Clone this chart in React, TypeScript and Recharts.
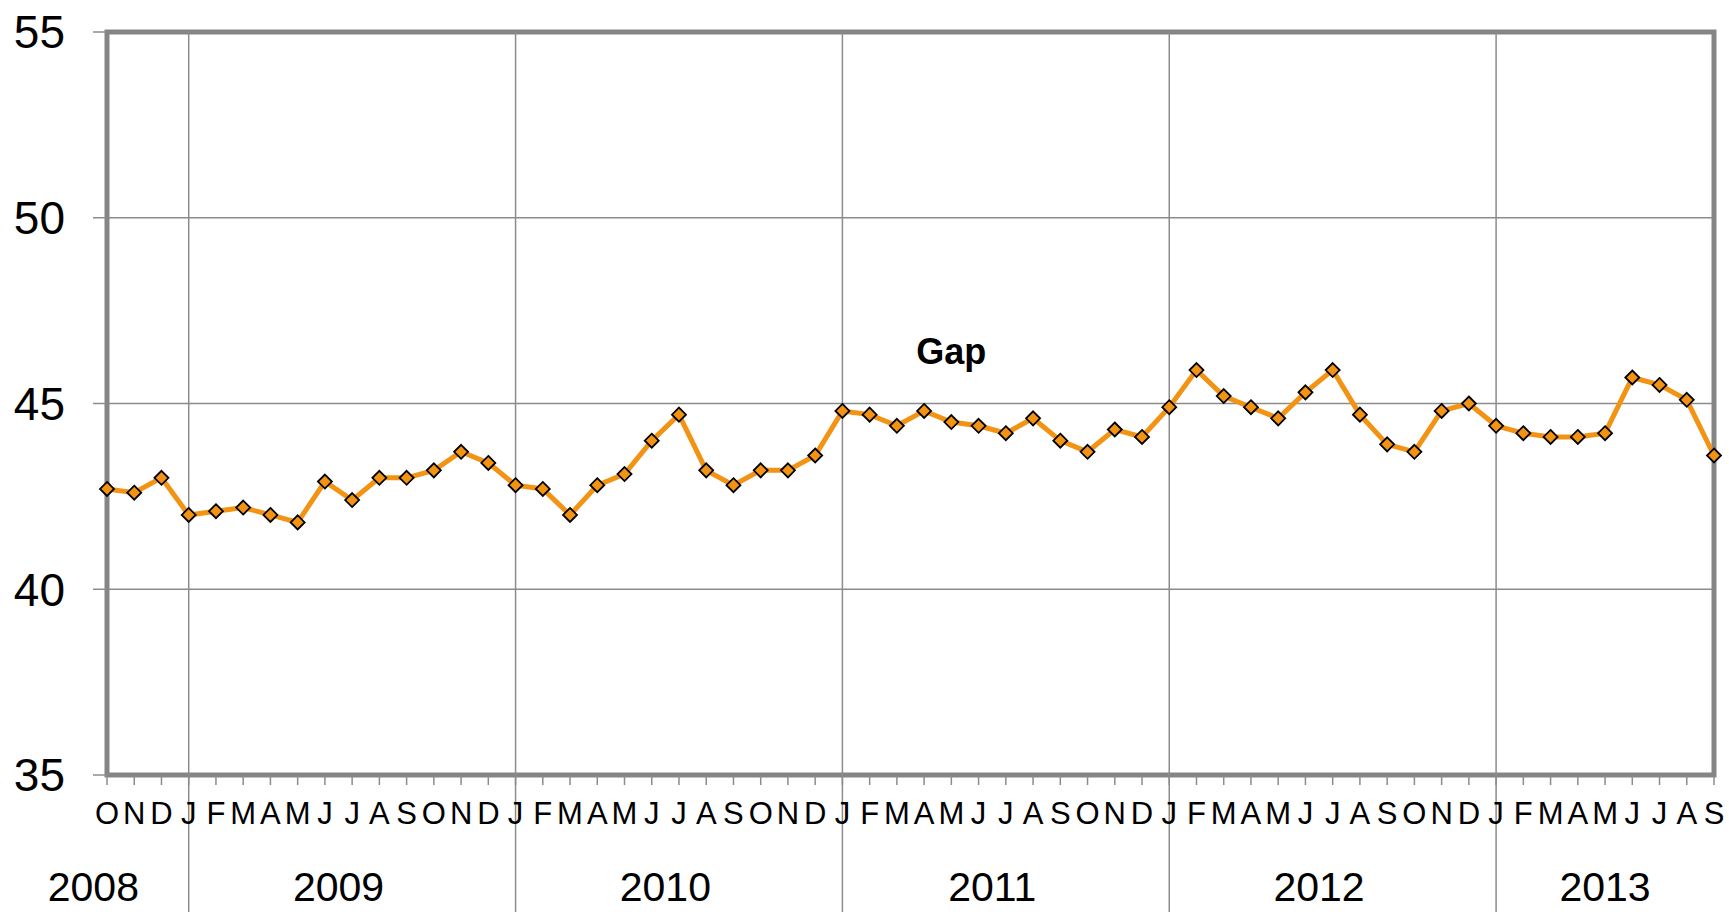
import {
  LineChart,
  Line,
  XAxis,
  YAxis,
  CartesianGrid,
  ReferenceArea,
  ReferenceLine,
  ReferenceDot,
} from "recharts";

// Oct 2008 .. Sep 2013, one letter per month
const MONTHS = [
  "O", "N", "D",
  "J", "F", "M", "A", "M", "J", "J", "A", "S", "O", "N", "D",
  "J", "F", "M", "A", "M", "J", "J", "A", "S", "O", "N", "D",
  "J", "F", "M", "A", "M", "J", "J", "A", "S", "O", "N", "D",
  "J", "F", "M", "A", "M", "J", "J", "A", "S", "O", "N", "D",
  "J", "F", "M", "A", "M", "J", "J", "A", "S",
];

const GAP = [
  42.7, 42.6, 43.0,
  42.0, 42.1, 42.2, 42.0, 41.8, 42.9, 42.4, 43.0, 43.0, 43.2, 43.7, 43.4,
  42.8, 42.7, 42.0, 42.8, 43.1, 44.0, 44.7, 43.2, 42.8, 43.2, 43.2, 43.6,
  44.8, 44.7, 44.4, 44.8, 44.5, 44.4, 44.2, 44.6, 44.0, 43.7, 44.3, 44.1,
  44.9, 45.9, 45.2, 44.9, 44.6, 45.3, 45.9, 44.7, 43.9, 43.7, 44.8, 45.0,
  44.4, 44.2, 44.1, 44.1, 44.2, 45.7, 45.5, 45.1, 43.6,
];

const YEARS = ["2008", "2009", "2010", "2011", "2012", "2013"];
// where each year label sits, in month-index units
const YEAR_POS = [-0.5, 8.5, 20.5, 32.5, 44.5, 55];
// index of each January (year boundary lines)
const YEAR_STARTS = [3, 15, 27, 39, 51];

const Y_TICKS = [35, 40, 45, 50, 55];

const data = GAP.map((v, i) => ({ i, v }));
const monthTicks = MONTHS.map((_, i) => i);

const GRID = "#8c8c8c";
const BORDER = "#858585";
const ORANGE = "#f39314";
const FONT = "'Liberation Sans', Arial, sans-serif";

function MonthTick(props: any) {
  const { x, y, payload } = props;
  const i = payload.value as number;
  return (
    <g>
      {YEAR_STARTS.includes(i) && (
        <line x1={x} x2={x} y1={y - 28} y2={y + 110} stroke={GRID} strokeWidth={1.5} />
      )}
      <text x={x} y={y} dy="0.71em" textAnchor="middle" fontSize={31} fill="#000" fontFamily={FONT}>
        {MONTHS[i]}
      </text>
    </g>
  );
}

function YearTick(props: any) {
  const { x, y, payload } = props;
  const k = YEAR_POS.indexOf(payload.value);
  return (
    <text x={x} y={y} dy="0.71em" textAnchor="middle" fontSize={41} fill="#000" fontFamily={FONT}>
      {YEARS[k]}
    </text>
  );
}

function Diamond(props: any) {
  const { cx, cy } = props;
  if (cx == null || cy == null) return null;
  const r = 7;
  return (
    <polygon
      points={`${cx},${cy - r} ${cx + r},${cy} ${cx},${cy + r} ${cx - r},${cy}`}
      fill={ORANGE}
      stroke="#000"
      strokeWidth={1.8}
    />
  );
}

export default function App() {
  return (
    <div style={{ position: "absolute", left: 0, top: 0, background: "#fff", fontFamily: FONT }}>
      <LineChart
        width={1729}
        height={923}
        data={data}
        margin={{ top: 32, right: 15, bottom: 0, left: 0 }}
      >
        <CartesianGrid vertical={false} stroke={GRID} strokeWidth={1.5} />
        {YEAR_STARTS.map((s) => (
          <ReferenceLine key={s} xAxisId="m" x={s} stroke={GRID} strokeWidth={1.5} />
        ))}
        <XAxis
          xAxisId="m"
          dataKey="i"
          type="number"
          domain={[0, MONTHS.length - 1]}
          ticks={monthTicks}
          interval={0}
          axisLine={false}
          tickLine={{ stroke: GRID, strokeWidth: 1.5 }}
          tickSize={10}
          tickMargin={17}
          height={50}
          tick={<MonthTick />}
        />
        <XAxis
          xAxisId="y"
          dataKey="i"
          type="number"
          domain={[0, MONTHS.length - 1]}
          ticks={YEAR_POS}
          interval={0}
          axisLine={false}
          tickLine={false}
          tickSize={0}
          tickMargin={47}
          height={98}
          tick={<YearTick />}
        />
        <YAxis
          domain={[35, 55]}
          ticks={Y_TICKS}
          width={107}
          axisLine={false}
          tickLine={{ stroke: GRID, strokeWidth: 1.5 }}
          tickSize={14}
          tickMargin={28}
          tick={{ fontSize: 46, fill: "#000", fontFamily: FONT }}
        />
        <ReferenceArea
          xAxisId="m"
          x1={0}
          x2={MONTHS.length - 1}
          y1={35}
          y2={55}
          fill="none"
          stroke={BORDER}
          strokeWidth={5}
        />
        <ReferenceDot
          xAxisId="m"
          x={31}
          y={46.4}
          r={0}
          fill="none"
          stroke="none"
          label={{
            value: "Gap",
            position: "center",
            fontSize: 36,
            fontWeight: "bold",
            fill: "#000",
            fontFamily: FONT,
          }}
        />
        <Line
          xAxisId="m"
          dataKey="v"
          stroke={ORANGE}
          strokeWidth={5}
          dot={<Diamond />}
          activeDot={false}
          isAnimationActive={false}
        />
      </LineChart>
    </div>
  );
}
